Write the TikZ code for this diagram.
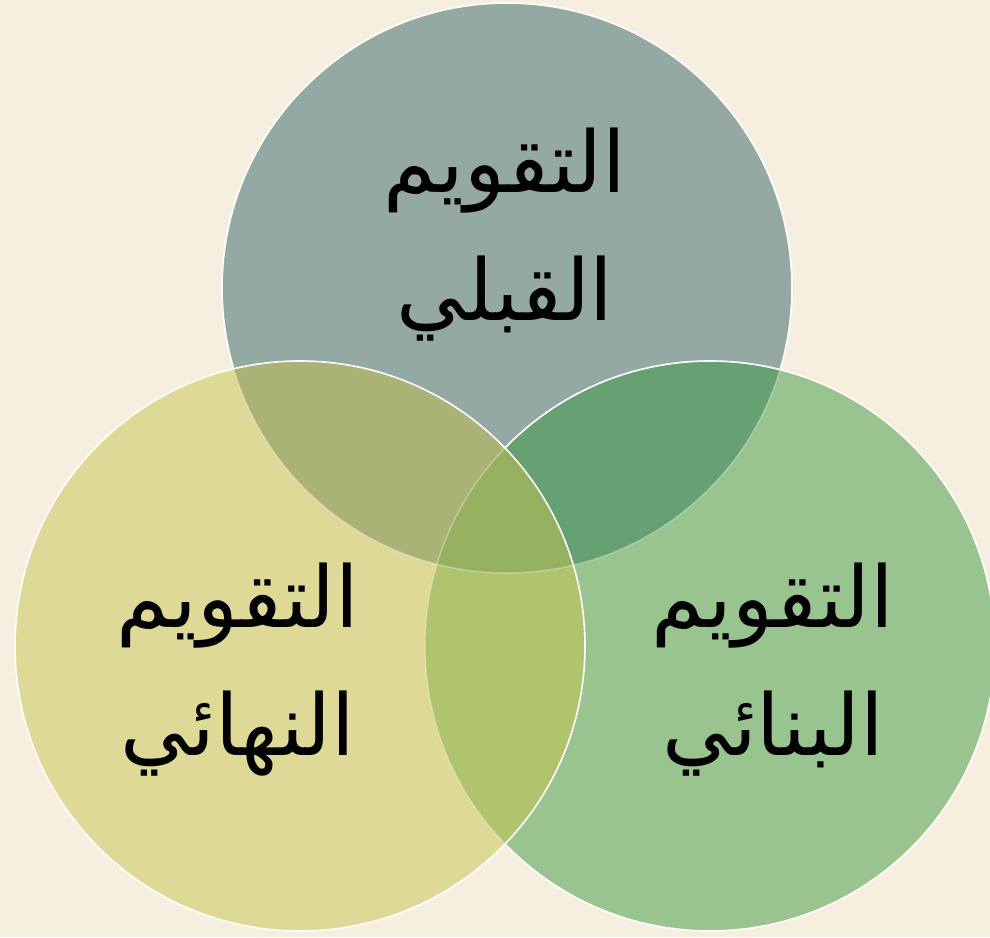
\documentclass[tikz,border=0pt]{standalone}
\usepackage{fontspec}
\newfontfamily\arabicfont[Script=Arabic]{DejaVu Sans}
\TeXXeTstate=1
\usetikzlibrary{positioning}
\definecolor{bgcream}{RGB}{246,239,224}
\definecolor{topgray}{RGB}{148,169,163}
\definecolor{lyellow}{RGB}{222,217,150}
\definecolor{rgreen}{RGB}{153,195,143}
\definecolor{tlolive}{RGB}{171,178,118}
\definecolor{trgreen}{RGB}{102,160,115}
\definecolor{lrgreen}{RGB}{176,196,110}
\definecolor{midgreen}{RGB}{149,176,94}
\def\crad{285pt}

\begin{document}
\begin{tikzpicture}[x=1pt, y=1pt,
          ring/.style={draw=white, line width=1.6pt},
          faint/.style={draw=white, draw opacity=0.3, line width=1.6pt},
          lbl/.style={font=\arabicfont\fontsize{85}{128}\selectfont,
                      align=center, text=black, inner sep=0pt}]
        \fill[bgcream] (0,0) rectangle (990,937);
        \useasboundingbox (0,0) rectangle (990,937);
        \coordinate (qc) at (507,649);
        \coordinate (nc) at (300,291);
        \coordinate (bc) at (710,291);
        % top circle
        \fill[topgray] (qc) circle[radius=\crad];
        \draw[ring] (qc) circle[radius=\crad];
        % right circle
        \fill[rgreen] (bc) circle[radius=\crad];
        \begin{scope}
          \clip (qc) circle[radius=\crad];
          \fill[trgreen] (bc) circle[radius=\crad];
        \end{scope}
        \draw[ring] (bc) circle[radius=\crad];
        % left circle
        \fill[lyellow] (nc) circle[radius=\crad];
        \begin{scope}
          \clip (qc) circle[radius=\crad];
          \fill[tlolive] (nc) circle[radius=\crad];
        \end{scope}
        \begin{scope}
          \clip (bc) circle[radius=\crad];
          \fill[lrgreen] (nc) circle[radius=\crad];
          \clip (qc) circle[radius=\crad];
          \fill[midgreen] (nc) circle[radius=\crad];
        \end{scope}
        \draw[ring] (nc) circle[radius=\crad];
        \draw[faint] (qc) circle[radius=\crad];
        \draw[faint] (bc) circle[radius=\crad];
        % labels
        \node[lbl] (qtxt) at (505,702) {\beginR التقويم\endR\\\beginR القبلي\endR};
        \node[lbl] (ntxt) at (238,267) {\beginR التقويم\endR\\\beginR النهائي\endR};
        \node[lbl] (btxt) at (773,267) {\beginR التقويم\endR\\\beginR البنائي\endR};
      \end{tikzpicture}
\end{document}
